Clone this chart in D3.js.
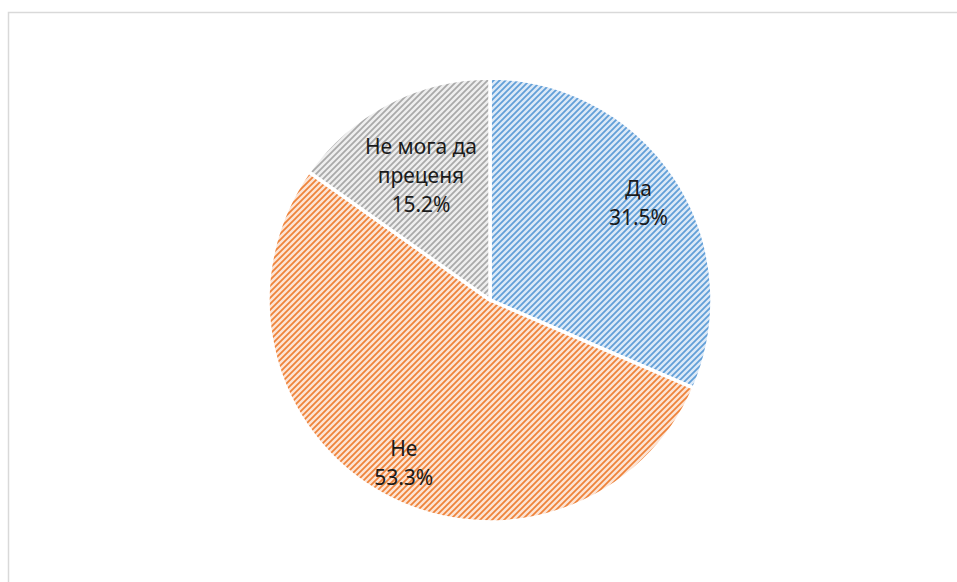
<!DOCTYPE html>
<html>
<head>
<meta charset="utf-8">
<script src="https://cdn.jsdelivr.net/npm/d3@7/dist/d3.min.js"></script>
<style>
  html, body { margin: 0; padding: 0; background: #ffffff; }
  svg { display: block; }
  text { font-family: "Noto Sans", "Open Sans", sans-serif; fill: #1a1a1a; }
</style>
</head>
<body>
<svg id="chart" width="957" height="582"></svg>
<script>
// Survey answers and their shares (%)
const categories = ["Да", "Не", "Не мога да преценя"];
const values = [31.5, 53.3, 15.2];
// Label lines for each slice (category name split over lines, then value)
const labelLines = [["Да"], ["Не"], ["Не мога да", "преценя"]];

const W = 957, H = 582;
const cx = 490, cy = 300, radius = 222;

// stripe colour / light background per slice
const stripe = ["#5b9bd5", "#ed7d31", "#a5a5a5"];
const ground = ["#dce9f7", "#fce4d5", "#eeeeee"];
// where each label sits: fraction of the radius and a small angular nudge (rad)
const labelR = [0.80, 0.83, 0.64];
const labelNudge = [0, -0.025, -0.03];

const svg = d3.select("#chart");

// chart-area frame
svg.append("rect")
  .attr("x", 8.5).attr("y", 12.5)
  .attr("width", W + 10).attr("height", H + 10)
  .attr("fill", "#ffffff")
  .attr("stroke", "#d9d9d9")
  .attr("stroke-width", 1.5);

// "/" diagonal stripe patterns
const defs = svg.append("defs");
const p = 6;
categories.forEach((c, i) => {
  const pat = defs.append("pattern")
    .attr("id", "hatch" + i)
    .attr("patternUnits", "userSpaceOnUse")
    .attr("width", p).attr("height", p);
  pat.append("rect").attr("width", p).attr("height", p).attr("fill", ground[i]);
  pat.append("path")
    .attr("d", `M${-p / 2},${p / 2} L${p / 2},${-p / 2} M0,${p} L${p},0 M${p / 2},${p * 1.5} L${p * 1.5},${p / 2}`)
    .attr("stroke", stripe[i])
    .attr("stroke-width", 1.8)
    .attr("stroke-opacity", 0.95);
});

const pie = d3.pie().sort(null).value(d => d)(values);
const arc = d3.arc().innerRadius(0).outerRadius(radius);

const g = svg.append("g").attr("transform", `translate(${cx},${cy})`);

g.selectAll("path.slice")
  .data(pie)
  .join("path")
  .attr("class", "slice")
  .attr("d", arc)
  .attr("fill", (d, i) => `url(#hatch${i})`)
  .attr("stroke", "#ffffff")
  .attr("stroke-width", 3.5)
  .attr("stroke-linejoin", "round");

// data labels
const fmt = d3.format(".1f");
const lineH = 29;
pie.forEach((d, i) => {
  const a = (d.startAngle + d.endAngle) / 2 + labelNudge[i];
  const r = radius * labelR[i];
  const lx = r * Math.sin(a), ly = -r * Math.cos(a);
  const lines = labelLines[i].concat([fmt(d.data) + "%"]);
  const t = g.append("text")
    .attr("text-anchor", "middle")
    .attr("font-size", "21px");
  const top = ly - (lines.length - 1) * lineH / 2 + 7.5;
  lines.forEach((s, k) => {
    t.append("tspan")
      .attr("x", lx)
      .attr("y", top + k * lineH)
      .text(s);
  });
});
</script>
</body>
</html>
